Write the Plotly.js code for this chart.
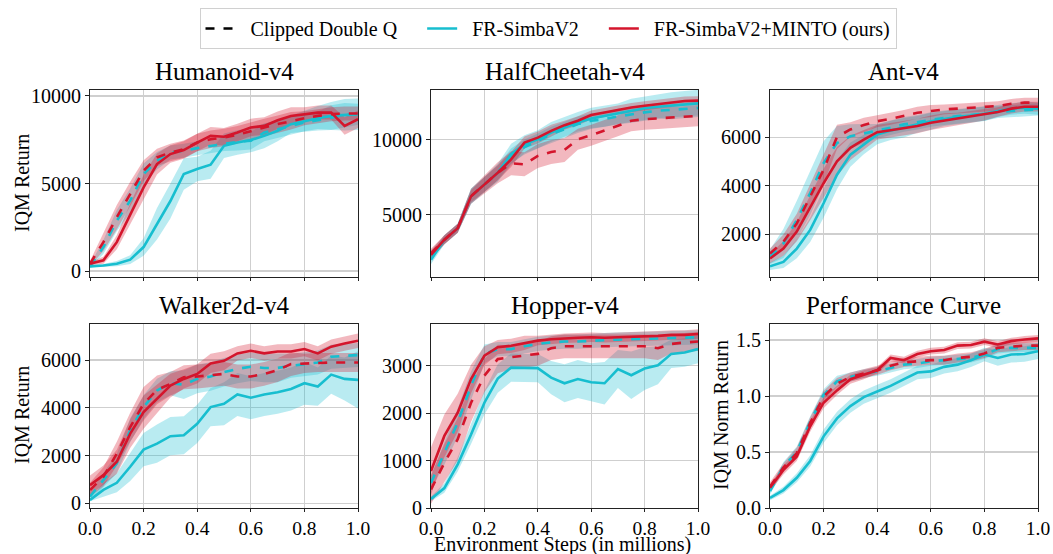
<!DOCTYPE html>
<html>
<head>
<meta charset="utf-8">
<script src="https://cdn.plot.ly/plotly-3.0.1.min.js"></script>
<style>html,body{margin:0;padding:0;background:#fff;}#chart{width:1053px;height:554px;}</style>
</head>
<body>
<div id="chart"></div>
<script>
// ---------------- DATA ----------------
const steps = [0.0,0.05,0.1,0.15,0.2,0.25,0.3,0.35,0.4,0.45,0.5,0.55,0.6,0.65,0.7,0.75,0.8,0.85,0.9,0.95,1.0];
const envNames = ["Humanoid-v4","HalfCheetah-v4","Ant-v4","Walker2d-v4","Hopper-v4","Performance Curve"];
const legendNames = ["Clipped Double Q","FR-SimbaV2","FR-SimbaV2+MINTO (ours)"];

// Humanoid-v4
const humanoidSimba      = [265,320,420,650,1370,2700,4000,5540,5830,6070,7150,7340,7480,7720,8010,8390,8580,8730,8860,8920,8960];
const humanoidSimbaErr   = [50,80,150,250,500,900,1000,900,700,800,700,700,700,700,600,500,600,700,800,900,900];
const humanoidSimbaCdq   = [265,1370,2880,4020,5540,6300,6770,6870,7020,7150,7250,7380,7440,7910,8100,8290,8480,8610,8770,8900,8960];
const humanoidSimbaCdqErr= [100,400,600,700,600,500,400,400,400,400,400,500,500,500,500,500,500,500,700,700,600];
const humanoidMinto      = [420,610,1650,3260,4780,6110,6680,6910,7340,7720,7670,7910,8200,8290,8610,8860,8960,9050,9050,8290,8670];
const humanoidMintoErr   = [100,200,400,600,700,600,500,500,500,500,500,500,500,500,500,500,400,400,400,500,500];
const humanoidMintoCdq   = [420,1650,3070,4400,5730,6490,6770,6960,7340,7530,7630,7780,8010,8200,8390,8580,8730,8860,8960,9000,9000];
const humanoidMintoCdqErr= [150,500,700,700,600,500,500,500,500,500,500,500,500,500,500,500,400,400,400,400,400];

// HalfCheetah-v4
const cheetahSimba       = [2000,3330,4100,6230,7010,7790,9020,9690,10020,10470,10800,11140,11410,11580,11700,11920,12080,12190,12250,12340,12410];
const cheetahSimbaErr    = [300,300,300,500,500,600,700,600,600,700,700,700,700,700,700,800,800,800,900,900,900];
const cheetahSimbaCdq    = [2300,3330,4100,6230,7010,7790,8900,9500,9910,10360,10690,11030,11250,11360,11540,11700,11810,11920,11990,12030,12100];
const cheetahSimbaCdqErr = [300,300,300,500,500,500,500,500,500,500,500,500,500,500,500,500,500,500,500,500,500];
const cheetahMinto       = [2320,3330,4100,6230,7010,7790,8680,9800,10130,10580,10960,11250,11630,11810,11990,12140,12250,12370,12480,12570,12590];
const cheetahMintoErr    = [300,300,300,400,500,500,500,400,400,400,300,300,300,300,300,300,300,300,300,300,300];
const cheetahMintoCdq    = [2430,3330,4100,6230,7010,7790,8420,8350,8910,9170,9310,10020,10290,10580,10920,11250,11360,11410,11470,11540,11580];
const cheetahMintoCdqErr = [300,300,300,500,600,700,800,800,800,800,800,700,700,700,700,700,700,700,700,700,700];

// Ant-v4
const antSimba           = [670,850,1400,2170,3270,4450,5280,5700,6110,6280,6390,6530,6660,6760,6840,6900,6970,7080,7180,7220,7180];
const antSimbaErr        = [150,250,400,500,600,600,500,400,400,400,400,350,350,300,300,300,300,250,250,250,250];
const antSimbaCdq        = [1060,1610,2580,3690,4930,5760,6040,6150,6250,6390,6530,6620,6730,6800,6870,6930,6980,7040,7080,7120,7150];
const antSimbaCdqErr     = [300,600,800,900,900,700,500,400,300,300,300,300,300,300,300,300,300,250,250,250,250];
const antMinto           = [990,1400,2100,3070,4100,5000,5560,5900,6210,6290,6390,6460,6600,6690,6760,6840,6940,7040,7180,7260,7260];
const antMintoErr        = [200,300,400,500,600,600,500,400,300,300,300,300,300,300,250,250,250,200,200,200,200];
const antMintoCdq        = [1200,1680,2440,3550,4660,6010,6320,6500,6660,6760,6870,7010,7080,7150,7180,7220,7250,7290,7380,7430,7430];
const antMintoCdqErr     = [200,300,400,500,600,500,300,300,250,250,250,250,250,200,200,200,200,200,200,200,200];

// Walker2d-v4
const walkerSimba        = [140,560,860,1530,2250,2500,2810,2850,3330,4030,4170,4560,4420,4560,4650,4790,5030,4890,5390,5210,5170];
const walkerSimbaErr     = [50,300,400,600,700,800,800,800,800,800,900,900,900,900,900,900,900,800,800,900,1200];
const walkerSimbaCdq     = [280,970,1670,3060,4030,4720,5030,4970,5210,5310,5490,5630,5720,5670,5670,5760,5830,5900,6140,6180,6210];
const walkerSimbaCdqErr  = [200,300,400,500,500,500,500,600,600,600,600,600,600,600,600,500,500,500,500,500,500];
const walkerMinto        = [760,1180,1740,2920,3820,4380,4930,5210,5420,5860,5970,6280,6390,6280,6360,6360,6460,6280,6560,6690,6810];
const walkerMintoErr     = [400,400,500,600,700,600,500,400,400,400,400,300,300,300,300,300,300,300,300,300,300];
const walkerMintoCdq     = [560,1110,2080,3190,4170,4750,5000,5280,5310,5350,5420,5310,5310,5420,5580,5830,5860,5900,5900,5900,5900];
const walkerMintoCdqErr  = [300,400,500,600,700,600,500,500,500,500,500,500,500,500,500,500,400,400,400,400,400];

// Hopper-v4
const hopperSimba        = [190,420,920,1550,2220,2730,2960,2950,2950,2750,2630,2720,2650,2630,2930,2800,2940,3010,3250,3280,3350];
const hopperSimbaErr     = [50,100,150,200,250,300,300,300,300,350,400,400,400,450,400,500,450,400,300,300,300];
const hopperSimbaCdq     = [530,1160,1800,2580,3250,3350,3350,3410,3460,3490,3510,3510,3530,3540,3550,3560,3560,3580,3590,3590,3600];
const hopperSimbaCdqErr  = [150,250,300,300,200,150,150,150,150,150,150,150,150,150,150,150,150,150,150,150,150];
const hopperMinto        = [780,1520,2010,2720,3210,3390,3420,3480,3530,3560,3580,3590,3600,3590,3600,3610,3610,3630,3650,3650,3670];
const hopperMintoErr     = [500,450,400,300,200,150,150,150,100,100,100,100,100,100,100,100,100,100,100,100,100];
const hopperMintoCdq     = [390,950,1450,2220,2790,3140,3180,3210,3250,3370,3410,3410,3410,3410,3420,3410,3410,3370,3460,3490,3510];
const hopperMintoCdqErr  = [300,400,450,400,350,300,250,250,250,250,250,250,250,250,250,250,250,250,200,200,200];

// Performance Curve (IQM normalized)
const perfSimba          = [0.09,0.16,0.27,0.42,0.64,0.80,0.91,0.99,1.04,1.09,1.15,1.21,1.22,1.26,1.28,1.32,1.37,1.34,1.37,1.375,1.40];
const perfSimbaErr       = [0.02,0.03,0.04,0.05,0.06,0.06,0.06,0.06,0.06,0.06,0.06,0.06,0.06,0.06,0.06,0.06,0.06,0.07,0.07,0.07,0.07];
const perfSimbaCdq       = [0.15,0.37,0.50,0.77,1.01,1.13,1.17,1.20,1.22,1.25,1.28,1.29,1.31,1.32,1.33,1.34,1.37,1.42,1.43,1.43,1.43];
const perfSimbaCdqErr    = [0.03,0.04,0.05,0.05,0.05,0.05,0.04,0.04,0.04,0.04,0.04,0.04,0.04,0.04,0.04,0.04,0.04,0.04,0.04,0.04,0.04];
const perfMinto          = [0.18,0.34,0.46,0.73,0.94,1.05,1.15,1.19,1.23,1.34,1.32,1.375,1.40,1.41,1.45,1.455,1.485,1.46,1.49,1.505,1.515];
const perfMintoErr       = [0.03,0.04,0.04,0.05,0.05,0.04,0.04,0.04,0.03,0.03,0.03,0.03,0.03,0.03,0.03,0.03,0.03,0.03,0.03,0.03,0.03];
const perfMintoCdq       = [0.19,0.36,0.49,0.76,0.995,1.11,1.17,1.20,1.23,1.27,1.30,1.31,1.32,1.32,1.34,1.35,1.38,1.43,1.44,1.45,1.45];
const perfMintoCdqErr    = [0.04,0.04,0.05,0.05,0.05,0.05,0.04,0.04,0.04,0.04,0.04,0.04,0.04,0.04,0.04,0.04,0.04,0.04,0.04,0.04,0.04];

const yTickStep = [5000,5000,2000,2000,1000,0.5];
const yRanges = [[-340,10340],[850,13300],[226,7950],[-196,7510],[0,3880],[0,1.643]];

// ---------------- BUILD ----------------
const panels = [
  {simba:humanoidSimba,simbaErr:humanoidSimbaErr,simbaCdq:humanoidSimbaCdq,simbaCdqErr:humanoidSimbaCdqErr,minto:humanoidMinto,mintoErr:humanoidMintoErr,mintoCdq:humanoidMintoCdq,mintoCdqErr:humanoidMintoCdqErr},
  {simba:cheetahSimba,simbaErr:cheetahSimbaErr,simbaCdq:cheetahSimbaCdq,simbaCdqErr:cheetahSimbaCdqErr,minto:cheetahMinto,mintoErr:cheetahMintoErr,mintoCdq:cheetahMintoCdq,mintoCdqErr:cheetahMintoCdqErr},
  {simba:antSimba,simbaErr:antSimbaErr,simbaCdq:antSimbaCdq,simbaCdqErr:antSimbaCdqErr,minto:antMinto,mintoErr:antMintoErr,mintoCdq:antMintoCdq,mintoCdqErr:antMintoCdqErr},
  {simba:walkerSimba,simbaErr:walkerSimbaErr,simbaCdq:walkerSimbaCdq,simbaCdqErr:walkerSimbaCdqErr,minto:walkerMinto,mintoErr:walkerMintoErr,mintoCdq:walkerMintoCdq,mintoCdqErr:walkerMintoCdqErr},
  {simba:hopperSimba,simbaErr:hopperSimbaErr,simbaCdq:hopperSimbaCdq,simbaCdqErr:hopperSimbaCdqErr,minto:hopperMinto,mintoErr:hopperMintoErr,mintoCdq:hopperMintoCdq,mintoCdqErr:hopperMintoCdqErr},
  {simba:perfSimba,simbaErr:perfSimbaErr,simbaCdq:perfSimbaCdq,simbaCdqErr:perfSimbaCdqErr,minto:perfMinto,mintoErr:perfMintoErr,mintoCdq:perfMintoCdq,mintoCdqErr:perfMintoCdqErr}
];

const CYAN = '#17becf', RED = '#d4152c';
const CYAN_F = 'rgba(23,190,207,0.3)', RED_F = 'rgba(212,21,44,0.3)';
const FONT = '"Liberation Serif", "DejaVu Serif", serif';
const W = 1053, H = 554;
const colPx = [[90,358],[431,698],[770,1038]];
const rowPx = [[90,277],[324,508]];
const NB = '\u00a0';

const traces = [];
const layout = {
  width: W, height: H,
  margin: {l:0,r:0,t:0,b:0},
  paper_bgcolor: '#fff', plot_bgcolor: '#fff',
  font: {family: FONT, color: '#000', size: 19},
  showlegend: true,
  legend: {orientation:'h', x:548/W, xanchor:'center', y:1-8/H, yanchor:'top', traceorder:'normal',
           bordercolor:'#d0d0d0', borderwidth:1, font:{family:FONT,size:20,color:'#000'},
           itemwidth:30, tracegroupgap:0},
  annotations: []
};

function band(mean, err, ax, fill){
  const lo = mean.map((v,i)=>v-err[i]);
  const hi = mean.map((v,i)=>v+err[i]);
  traces.push({x:steps,y:lo,xaxis:ax.x,yaxis:ax.y,mode:'lines',line:{width:0,color:'rgba(0,0,0,0)'},showlegend:false,hoverinfo:'skip'});
  traces.push({x:steps,y:hi,xaxis:ax.x,yaxis:ax.y,mode:'lines',line:{width:0,color:'rgba(0,0,0,0)'},fill:'tonexty',fillcolor:fill,showlegend:false,hoverinfo:'skip'});
}
function line(mean, ax, color, dash){
  traces.push({x:steps,y:mean,xaxis:ax.x,yaxis:ax.y,mode:'lines',line:{color:color,width:2.6,dash:dash},showlegend:false});
}

panels.forEach((p, i) => {
  const r = Math.floor(i/3), c = i%3;
  const n = i===0 ? '' : String(i+1);
  const ax = {x:'x'+n, y:'y'+n};
  const xd = [colPx[c][0]/W, colPx[c][1]/W];
  const yd = [1-rowPx[r][1]/H, 1-rowPx[r][0]/H];
  const common = {showline:true, mirror:true, linecolor:'#222', linewidth:1,
                  showgrid:true, gridcolor:'#cfcfcf', gridwidth:1.3, zeroline:false,
                  ticks:'outside', ticklen:4, tickcolor:'#222',
                  tickfont:{family:FONT,size:20,color:'#000'}};
  layout['xaxis'+n] = Object.assign({}, common, {domain:xd, anchor:ax.y, range:[0,1], ticklen:3,
    tickmode:'linear', tick0:0, dtick:0.2, tickformat:'.1f', showticklabels: r===1,
    tickfont:{family:FONT,size:19.5,color:'#000'}});
  layout['yaxis'+n] = Object.assign({}, common, {domain:yd, anchor:ax.x, range:yRanges[i],
    tickmode:'linear', tick0:0, dtick:yTickStep[i], tickformat: i===5 ? '.1f' : 'd'});

  band(p.simba, p.simbaErr, ax, CYAN_F);
  band(p.simbaCdq, p.simbaCdqErr, ax, CYAN_F);
  band(p.minto, p.mintoErr, ax, RED_F);
  band(p.mintoCdq, p.mintoCdqErr, ax, RED_F);
  line(p.simba, ax, CYAN, 'solid');
  line(p.simbaCdq, ax, CYAN, 'dash');
  line(p.minto, ax, RED, 'solid');
  line(p.mintoCdq, ax, RED, 'dash');

  layout.annotations.push({text:envNames[i], xref:'paper', yref:'paper',
    x:(xd[0]+xd[1])/2, y:1-(rowPx[r][0]-3)/H, xanchor:'center', yanchor:'bottom',
    showarrow:false, font:{family:FONT,size:25,color:'#000'}});
});

// y-axis labels
const yLab = [["IQM Return",22,183],["IQM Return",22,415],["IQM Norm Return",721,415]];
yLab.forEach(t => layout.annotations.push({text:t[0], xref:'paper', yref:'paper',
  x:t[1]/W, y:1-t[2]/H, xanchor:'center', yanchor:'middle', textangle:-90,
  showarrow:false, font:{family:FONT,size:20,color:'#000'}}));
// x-axis label
layout.annotations.push({text:"Environment Steps (in millions)", xref:'paper', yref:'paper',
  x:562/W, y:1-531/H, xanchor:'center', yanchor:'top', showarrow:false,
  font:{family:FONT,size:20,color:'#000'}});

// legend entries
const pad = (s) => NB+NB+s+NB+NB+NB+NB;
traces.push({x:[null],y:[null],mode:'lines',name:pad(legendNames[0]),line:{color:'#000',width:2.6,dash:'dash'},showlegend:true});
traces.push({x:[null],y:[null],mode:'lines',name:pad(legendNames[1]),line:{color:CYAN,width:2.6},showlegend:true});
traces.push({x:[null],y:[null],mode:'lines',name:NB+NB+legendNames[2],line:{color:RED,width:2.6},showlegend:true});

Plotly.newPlot('chart', traces, layout, {displayModeBar:false, staticPlot:true});
</script>
</body>
</html>
